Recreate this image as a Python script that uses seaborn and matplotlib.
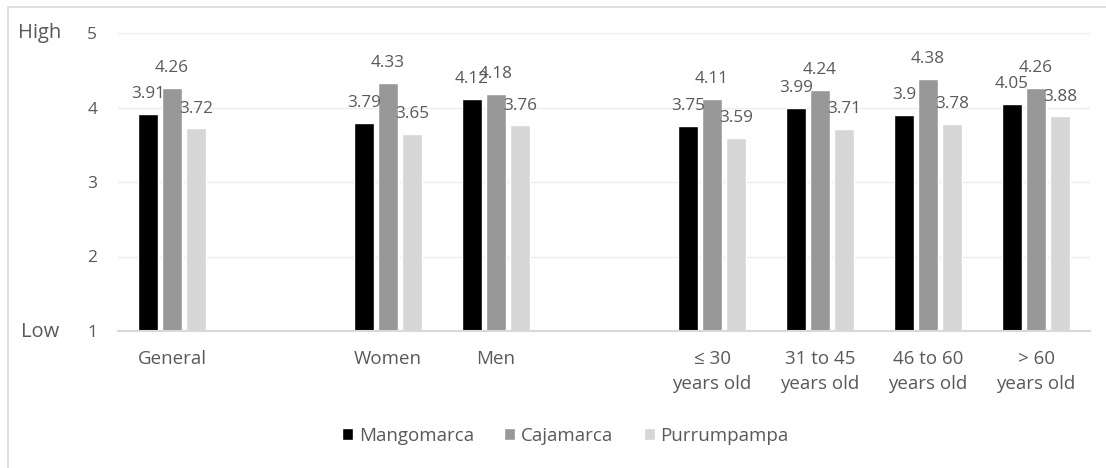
import matplotlib
matplotlib.use("Agg")
import matplotlib.pyplot as plt
import matplotlib.patches as mpatches
import seaborn as sns
import pandas as pd

categories = ["General", "Women", "Men", "≤ 30\nyears old", "31 to 45\nyears old",
              "46 to 60\nyears old", "> 60\nyears old"]
order = ["General", "_gap1", "Women", "Men", "_gap2", "≤ 30\nyears old", "31 to 45\nyears old",
         "46 to 60\nyears old", "> 60\nyears old"]
series = ["Mangomarca", "Cajamarca", "Purrumpampa"]
mangomarca = [3.91, 3.79, 4.12, 3.75, 3.99, 3.9, 4.05]
cajamarca = [4.26, 4.33, 4.18, 4.11, 4.24, 4.38, 4.26]
purrumpampa = [3.72, 3.65, 3.76, 3.59, 3.71, 3.78, 3.88]
colors = ["#000000", "#989898", "#d6d6d6"]

rows = []
for s, vals in zip(series, [mangomarca, cajamarca, purrumpampa]):
    for c, v in zip(categories, vals):
        rows.append({"cat": c, "series": s, "value": v})
df = pd.DataFrame(rows)

sns.set_theme(style="white")
plt.rcParams["font.family"] = ["Open Sans", "DejaVu Sans"]
TXT = "#595959"

fig = plt.figure(figsize=(11.06, 4.68), dpi=100)
ax = fig.add_axes([118 / 1106, (468 - 331) / 468, 972 / 1106, 298 / 468])

sns.barplot(data=df, x="cat", y="value", hue="series", order=order, hue_order=series,
            palette=colors, width=0.667, gap=0.2, ax=ax, legend=True, saturation=1,
            errorbar=None)

ax.set_ylim(1, 5)
ax.set_xlim(-0.5, len(order) - 0.5)
ax.set_yticks([1, 2, 3, 4, 5])
ax.set_yticklabels(["1", "2", "3", "4", "5"])
ax.set_xticks(range(len(order)))
ax.set_xticklabels([o if not o.startswith("_") else "" for o in order], linespacing=1.44)
ax.tick_params(axis="y", length=0, pad=15, labelsize=12.5, labelcolor=TXT)
ax.tick_params(axis="x", length=0, pad=14, labelsize=13.5, labelcolor=TXT)
ax.set_xlabel("")
ax.set_ylabel("")
ax.yaxis.grid(True, color="#ececec", lw=1)
ax.set_axisbelow(True)
for sp in ["left", "right", "top"]:
    ax.spines[sp].set_visible(False)
ax.spines["bottom"].set_color("#d9d9d9")
ax.spines["bottom"].set_linewidth(1.5)

vals_all = [mangomarca, cajamarca, purrumpampa]
for cont, vals in zip(ax.containers, vals_all):
    ax.bar_label(cont, labels=[f"{v:g}" for v in vals], padding=8.5, fontsize=12.3, color=TXT)

fig.text(18 / 1106, (468 - 33) / 468, "High", ha="left", va="center", fontsize=14.5, color=TXT)
fig.text(21 / 1106, (468 - 332) / 468, "Low", ha="left", va="center", fontsize=14.5, color=TXT)

handles, labels = ax.get_legend_handles_labels()
ax.legend(handles, labels, loc="center left", bbox_to_anchor=(342 / 1106, (468 - 436) / 468),
          bbox_transform=fig.transFigure, ncol=3, frameon=False, fontsize=13.5,
          handlelength=0.59, handleheight=0.59, handletextpad=0.32, columnspacing=1.6,
          borderpad=0, borderaxespad=0, labelcolor=TXT)

border = mpatches.Rectangle((8 / 1106, -0.2), 1.5, 0.2 + (468 - 7) / 468,
                            transform=fig.transFigure, fill=False, edgecolor="#d9d9d9",
                            lw=1.2, clip_on=False)
fig.patches.append(border)

fig.savefig("out.png", dpi=100)
